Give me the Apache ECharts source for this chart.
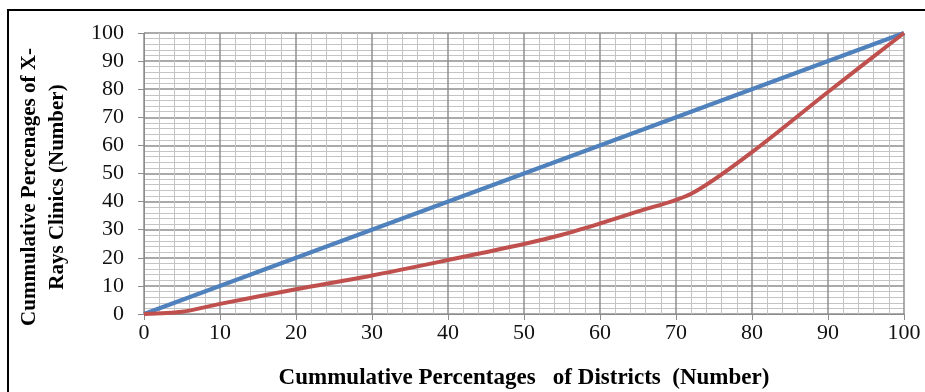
<!DOCTYPE html>
<html>
<head>
<meta charset="utf-8">
<script src="https://cdn.jsdelivr.net/npm/echarts@6/dist/echarts.min.js"></script>
<style>
	html, body { margin: 0; padding: 0; background: #fff; }
	#chart { width: 925px; height: 392px; }
</style>
</head>
<body>
<div id="chart"></div>
<script>
var districtsX = [0, 100];
var equalityY = [0, 100];
var lorenzX = [0, 5, 10, 20, 30, 40, 50, 55, 60, 65, 72, 80, 90, 100];
var lorenzY = [0, 0.8, 3.6, 8.8, 13.7, 19.2, 24.9, 28.2, 32.2, 36.5, 42.8, 57.6, 79, 100];
var tickLabels = ['0', '10', '20', '30', '40', '50', '60', '70', '80', '90', '100'];

(function() {
	var myChart = echarts.init(document.getElementById('chart'));
	var font = 'Liberation Serif';

	function pairs(xs, ys) {
		return xs.map(function(x, i) { return [x, ys[i]]; });
	}

	var axisCommon = {
		type: 'value',
		min: 0,
		max: 100,
		interval: 10,
		axisLine: { show: true, lineStyle: { color: '#8c8c8c', width: 1 } },
		axisTick: { show: true, length: 6, lineStyle: { color: '#8c8c8c' } },
		axisLabel: {
			color: '#111',
			fontFamily: font,
			fontSize: 22,
			formatter: function(v) { return tickLabels[v / 10]; }
		},
		splitLine: { show: true, lineStyle: { color: '#8f8f8f', width: 1.5 } },
		minorTick: { show: false, splitNumber: 5 },
		minorSplitLine: { show: true, lineStyle: { color: '#c4c4c4', width: 1 } }
	};

	option = {
		animation: false,
		grid: { left: 144, right: 21, top: 33, bottom: 78 },
		xAxis: Object.assign({}, axisCommon, {
			axisLabel: Object.assign({}, axisCommon.axisLabel, { margin: 8 })
		}),
		yAxis: Object.assign({}, axisCommon, {
			axisLabel: Object.assign({}, axisCommon.axisLabel, { margin: 20 })
		}),
		graphic: [{
				type: 'rect',
				shape: { x: 8, y: 10, width: 1000, height: 1000 },
				style: { fill: 'none', stroke: '#000', lineWidth: 2 },
				silent: true
			},
			{
				type: 'text',
				x: 524,
				y: 378,
				style: {
					text: 'Cummulative Percentages   of Districts  (Number)',
					font: 'bold 23px "Liberation Serif"',
					fill: '#000',
					align: 'center',
					verticalAlign: 'middle'
				}
			},
			{
				type: 'text',
				x: 44,
				y: 187,
				rotation: Math.PI / 2,
				style: {
					text: 'Cummulative Percenages of X-\nRays Clinics (Number)',
					font: 'bold 21px "Liberation Serif"',
					lineHeight: 28,
					fill: '#000',
					align: 'center',
					verticalAlign: 'middle'
				}
			}
		],
		series: [{
				name: 'Equality',
				type: 'line',
				data: pairs(districtsX, equalityY),
				showSymbol: false,
				lineStyle: { color: '#4f81bd', width: 4 },
				z: 3
			},
			{
				name: 'Lorenz',
				type: 'line',
				data: pairs(lorenzX, lorenzY),
				smooth: 0.3,
				showSymbol: false,
				lineStyle: { color: '#c0504d', width: 4 },
				z: 4
			}
		]
	};

	myChart.setOption(option);
})();
</script>
</body>
</html>
